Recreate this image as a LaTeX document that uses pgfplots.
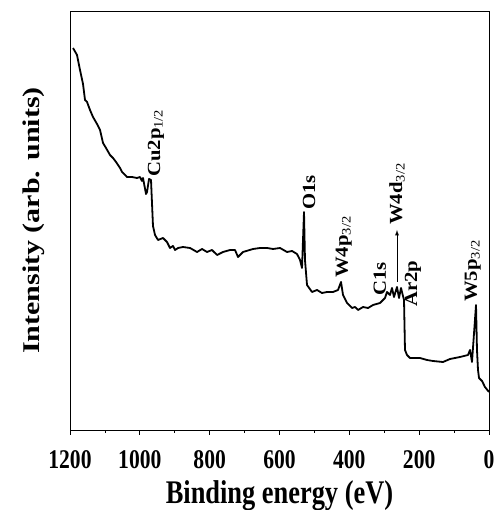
\documentclass[border=0pt]{standalone}
\usepackage{pgfplots}
\pgfplotsset{compat=1.18}
\usepackage{fontspec}
\setmainfont{Liberation Serif}
\newfontfamily\hfont[FakeStretch=0.8]{Liberation Serif}
\newfontfamily\vfont[FakeStretch=1.25]{Liberation Serif}
\newfontfamily\pfont[FakeStretch=1.12]{Liberation Serif}
\begin{document}
\begin{tikzpicture}
\begin{axis}[
  scale only axis, width=419pt, height=419pt,
  x dir=reverse, xmin=0, xmax=1200, ymin=0, ymax=419,
  xtick={0,200,...,1200}, minor x tick num=1,
  xtick pos=bottom, tick align=outside,
  major tick length=5pt, minor tick length=3pt,
  every tick/.style={black, line width=0.8pt},
  ytick=\empty,
  axis line style={line width=0.8pt},
  /pgf/number format/1000 sep={},
  /pgf/number format/assume math mode=true,
  xticklabel style={font=\hfont\bfseries\fontsize{27}{27}\selectfont, inner sep=0pt, anchor=base, yshift=-33pt},
  xlabel={Binding energy (eV)},
  xlabel style={font=\hfont\bfseries\fontsize{33}{33}\selectfont, at={(axis description cs:0.5,-0.1766)}, anchor=base, inner sep=0pt},
  ylabel={Intensity (arb. units)},
  ylabel style={font=\vfont\bfseries\fontsize{24}{24}\selectfont, at={(axis description cs:-0.072,0.5)}, anchor=base, inner sep=0pt},
]
\addplot[black, line width=1.8pt, line join=round] coordinates {
(1191.3,382) (1179.9,375) (1171.3,360) (1162.7,346) (1157.0,330) (1151.2,328)
(1142.7,320) (1134.1,313) (1122.6,306) (1114.0,300) (1105.4,287) (1096.8,282)
(1085.4,275) (1076.8,272) (1068.2,268) (1062.4,265) (1056.7,262) (1051.0,258)
(1042.4,255) (1036.7,253) (1022.4,253) (1008.1,252) (999.5,253) (993.8,249)
(990.9,252) (982.3,236) (979.4,238) (973.7,251) (968.0,250) (962.3,204)
(956.5,195) (947.9,190) (933.6,192) (922.2,188) (913.6,182) (905.0,184)
(899.2,180) (890.6,182) (876.3,183) (856.3,182) (836.2,178) (821.9,181)
(807.6,178) (793.3,180) (778.9,175) (761.8,178) (741.7,180) (727.4,180)
(718.8,173) (704.5,178) (675.9,181) (655.8,182) (635.8,182) (618.6,181)
(598.5,182) (578.5,178) (564.2,179) (549.9,176) (541.2,170) (535.5,162)
(529.8,218) (527.0,170) (521.2,145) (506.9,138) (492.6,140) (478.3,137)
(463.9,138) (446.8,138) (432.4,140) (423.8,148) (418.1,135) (406.6,127)
(392.3,122) (383.7,123) (375.1,120) (360.8,123) (346.5,122) (332.2,125)
(312.2,127) (297.8,132) (292.1,138) (283.5,135) (277.8,142) (272.1,133)
(263.5,143) (257.7,132) (252.0,142) (246.3,134) (243.4,130) (240.6,80)
(234.8,75) (226.2,72) (197.6,72) (177.6,70) (160.4,69) (131.7,68)
(111.7,71) (83.0,73) (60.1,75) (54.4,80) (48.7,68) (37.2,125)
(34.4,80) (31.5,60) (28.6,52) (20.0,49) (11.5,43) (0,38)
};
\coordinate (bl) at (rel axis cs:0,0);
\coordinate (tr) at (rel axis cs:1,1);
\tikzset{pk/.style={rotate=90, anchor=base west, inner sep=0pt, font=\pfont\bfseries\fontsize{18.5}{18.5}\selectfont}}
\node[pk] at (axis cs:942,253) {Cu2p\textsubscript{\mdseries 1/2}};
\node[pk] at (axis cs:498,220) {O1s};
\node[pk] at (axis cs:404,152) {W4p\textsubscript{\mdseries 3/2}};
\node[pk] at (axis cs:295,134) {C1s};
\node[pk] at (axis cs:249,205) {W4d\textsubscript{\mdseries 3/2}};
\node[pk] at (axis cs:206,123) {Ar2p};
\node[pk] at (axis cs:34.4,128) {W5p\textsubscript{\mdseries 3/2}};
\draw[-latex, line width=0.9pt] (axis cs:263.5,148) -- (axis cs:263.5,200);
\end{axis}
\pgfresetboundingbox
\path[use as bounding box] ([shift={(-70pt,-80pt)}]bl) rectangle ([shift={(8pt,11pt)}]tr);
\end{tikzpicture}
\end{document}
